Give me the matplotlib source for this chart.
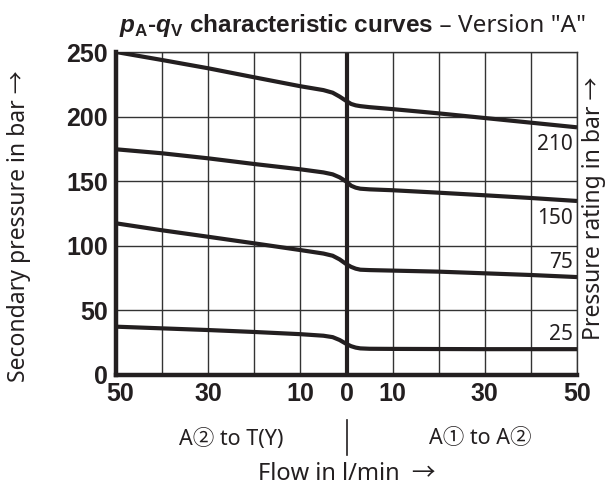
import numpy as np
import matplotlib
matplotlib.use("Agg")
import matplotlib.pyplot as plt
import matplotlib.transforms as mtransforms

plt.rcParams['font.family'] = ['Noto Sans', 'Noto Sans CJK JP', 'DejaVu Sans']
plt.rcParams['mathtext.fontset'] = 'custom'
plt.rcParams['mathtext.rm'] = 'Liberation Sans'
plt.rcParams['mathtext.bf'] = 'Liberation Sans:bold'
plt.rcParams['mathtext.bfit'] = 'Liberation Sans:italic:bold'

# flow in l/min (negative = A2 to T(Y), positive = A1 to A2)
flow = [-50, -40, -30, -20, -10, -5, -3, -1.5, 0, 1, 2, 3, 5, 10, 20, 30, 40, 50]
p210 = [250, 243.8, 237.4, 230.4, 223.5, 220.5, 218.5, 215.5, 212, 209.8, 208.7, 208.1, 207.3,
        205.8, 202.5, 198.9, 195.3, 191.7]
p150 = [174.7, 171.6, 167.7, 163.3, 159.2, 156.8, 155.3, 153, 149.6, 146.5, 145, 144.2, 143.7,
        143.0, 141.1, 139.1, 137, 134.7]
p75 = [117.4, 112, 107, 101.9, 96.7, 94, 92.3, 89.5, 85.7, 83.7, 82.3, 81.5, 81.2,
       80.8, 80, 78.7, 77.4, 75.8]
p25 = [37.4, 36.1, 34.8, 33.3, 31.6, 30.4, 29.3, 27.1, 24, 22.3, 21.2, 20.6, 20.3,
       20.2, 20.1, 20, 20, 20]

curves = [p210, p150, p75, p25]
ratings = ["210", "150", "75", "25"]
label_below = [True, True, False, False]

x_ticks = [-50, -40, -30, -20, -10, 0, 10, 20, 30, 40, 50]
x_labels = ["50", "", "30", "", "10", "0", "10", "", "30", "", "50"]
y_ticks = [0, 50, 100, 150, 200, 250]

ink = "#231f20"
bold = ['Liberation Sans', 'DejaVu Sans']

fig = plt.figure(figsize=(6.1, 4.92), dpi=100)
ax = fig.add_axes([116 / 610, 117 / 492, 461 / 610, 323 / 492])

for p, name, below in zip(curves, ratings, label_below):
    ax.plot(flow, p, color=ink, lw=3, solid_joinstyle='round', solid_capstyle='butt', zorder=3)
    if below:
        ax.annotate(name, (50, p[-1]), xytext=(-3, -5), textcoords='offset points',
                    ha='right', va='top', fontsize=15, color=ink)
    else:
        ax.annotate(name, (50, p[-1]), xytext=(-3, 3), textcoords='offset points',
                    ha='right', va='bottom', fontsize=15, color=ink)

ax.axvline(0, color=ink, lw=3, zorder=2)
ax.set_xlim(-50, 50)
ax.set_ylim(0, 250)
ax.set_xticks(x_ticks)
ax.set_xticklabels(x_labels, fontweight='bold', fontsize=18, family=bold)
ax.set_yticks(y_ticks)
ax.set_yticklabels([str(v) for v in y_ticks], fontweight='bold', fontsize=18, family=bold)
ax.tick_params(axis='x', length=0, colors=ink, pad=5)
ax.tick_params(axis='y', length=0, colors=ink, pad=6)
ax.grid(True, color='#333333', lw=1)
ax.set_axisbelow(True)

# first x label sits a little right of the corner
first = ax.get_xticklabels()[0]
first.set_transform(first.get_transform() + mtransforms.ScaledTranslation(4 / 100, 0, fig.dpi_scale_trans))

for s in ['top', 'right']:
    ax.spines[s].set_linewidth(1)
    ax.spines[s].set_color('#333333')
for s in ['left', 'bottom']:
    ax.spines[s].set_linewidth(3.2)
    ax.spines[s].set_color(ink)

fig.text(19 / 610, 1 - 226 / 492, "Secondary pressure in bar →", rotation=90, ha='center',
         va='center', fontsize=16.5, color=ink)
fig.text(594 / 610, 1 - 208 / 492, "Pressure rating in bar →", rotation=90, ha='center',
         va='center', fontsize=16.5, color=ink)

fig.text(433 / 610, 1 - 32 / 492,
         r'$\mathbfit{p}_{\mathbf{A}}$-$\mathbfit{q}_{\mathbf{V}}$ characteristic curves',
         ha='right', va='baseline', fontsize=17.5, fontweight='bold', family=bold, color=ink)
fig.text(433 / 610, 1 - 32 / 492, ' – Version "A"', ha='left', va='baseline', fontsize=17.5,
         color=ink)

fig.text(231 / 610, 1 - 439 / 492, "A② to T(Y)", ha='center', va='center', fontsize=15.5,
         color=ink)
fig.text(480 / 610, 1 - 439 / 492, "A① to A②", ha='center', va='center', fontsize=15.5,
         color=ink)
fig.add_artist(plt.Line2D([347 / 610, 347 / 610], [1 - 420 / 492, 1 - 455 / 492],
                          transform=fig.transFigure, color=ink, lw=1.2))
fig.text(347 / 610, 1 - 474 / 492, "Flow in l/min  →", ha='center', va='center', fontsize=17,
         color=ink)

fig.savefig("out.png", dpi=100)
plt.close(fig)
